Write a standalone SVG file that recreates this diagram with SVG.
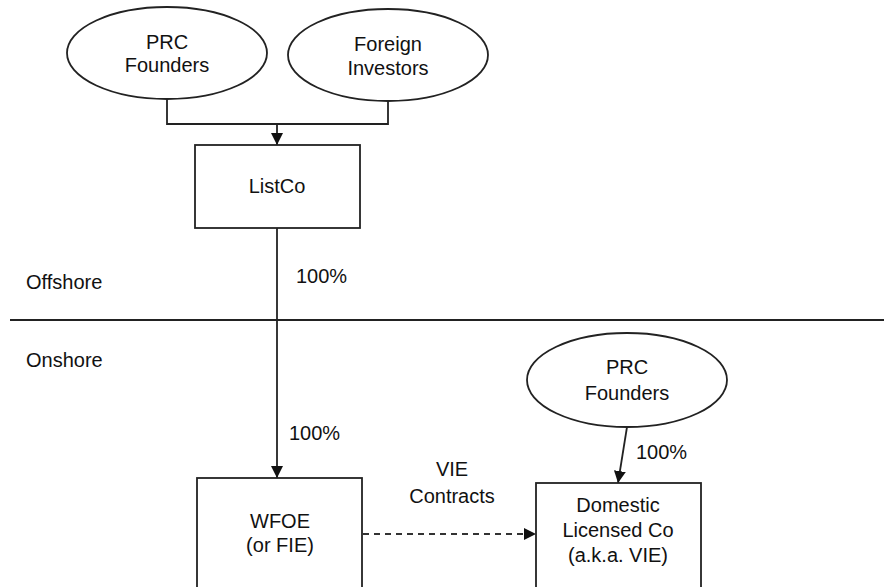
<svg xmlns="http://www.w3.org/2000/svg" width="884" height="587" viewBox="0 0 884 587">
<style>
  .shape { fill: #fff; stroke: #222; stroke-width: 1.8; }
  .line { fill: none; stroke: #222; stroke-width: 1.8; }
  .dash { fill: none; stroke: #333; stroke-width: 1.8; stroke-dasharray: 6 5; }
  text { font-family: "Liberation Sans", Arial, sans-serif; font-size: 20px; fill: #111; }
  .c { text-anchor: middle; }
</style>
<defs>
  <marker id="arrb" viewBox="0 0 10 10" refX="10" refY="5" markerWidth="12" markerHeight="12" markerUnits="userSpaceOnUse" orient="auto">
    <path d="M0,0 L10,5 L0,10 z" fill="#111"/>
  </marker>
</defs>

<g id="divider">
  <line class="line" x1="10" y1="320" x2="884" y2="320"/>
  <text x="26" y="289">Offshore</text>
  <text x="26" y="367">Onshore</text>
</g>

<g id="connectors">
  <path class="line" d="M167,100 V124 H388 V102"/>
  <line class="line" x1="277" y1="124" x2="277" y2="145" marker-end="url(#arrb)"/>
  <line class="line" x1="277" y1="228" x2="277" y2="478" marker-end="url(#arrb)"/>
  <line class="line" x1="627" y1="427" x2="618" y2="483" marker-end="url(#arrb)"/>
  <line class="dash" x1="363" y1="534" x2="536" y2="534" marker-end="url(#arrb)"/>
  <text x="296" y="283">100%</text>
  <text x="289" y="440">100%</text>
  <text x="636" y="459">100%</text>
  <text class="c" x="452" y="476">VIE</text>
  <text class="c" x="452" y="503">Contracts</text>
</g>

<g id="prc-founders-offshore">
  <ellipse class="shape" cx="167" cy="53" rx="100" ry="46"/>
  <text class="c" x="167" y="49">PRC</text>
  <text class="c" x="167" y="72">Founders</text>
</g>

<g id="foreign-investors">
  <ellipse class="shape" cx="388" cy="55" rx="100" ry="46"/>
  <text class="c" x="388" y="51">Foreign</text>
  <text class="c" x="388" y="75">Investors</text>
</g>

<g id="listco">
  <rect class="shape" x="195" y="145" width="165" height="83"/>
  <text class="c" x="277" y="193">ListCo</text>
</g>

<g id="prc-founders-onshore">
  <ellipse class="shape" cx="627" cy="380" rx="100" ry="47"/>
  <text class="c" x="627" y="374">PRC</text>
  <text class="c" x="627" y="400">Founders</text>
</g>

<g id="wfoe">
  <rect class="shape" x="197" y="478" width="165" height="120"/>
  <text class="c" x="280" y="528">WFOE</text>
  <text class="c" x="280" y="552">(or FIE)</text>
</g>

<g id="domestic-licensed-co">
  <rect class="shape" x="536" y="483" width="165" height="115"/>
  <text class="c" x="618" y="512">Domestic</text>
  <text class="c" x="618" y="537">Licensed Co</text>
  <text class="c" x="618" y="562">(a.k.a. VIE)</text>
</g>
</svg>
